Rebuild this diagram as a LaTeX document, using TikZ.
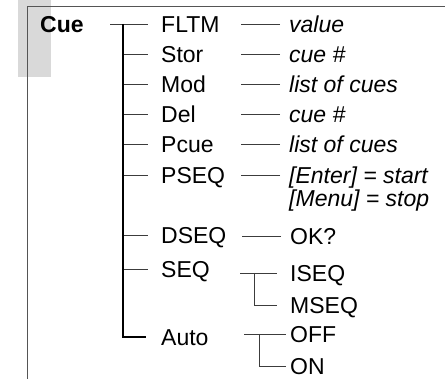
\documentclass[tikz,border=0pt]{standalone}
\usepackage{fontspec}
\setmainfont{Liberation Sans}
\usepackage{tikz}
\usetikzlibrary{calc,positioning}
\definecolor{cueShade}{RGB}{217,217,217}
\definecolor{cueFrame}{RGB}{85,85,85}
\definecolor{cueLine}{RGB}{60,60,60}

\begin{document}
\begin{tikzpicture}[x=1pt,y=-1pt,
  item/.style={anchor=west,inner sep=0pt,text height=16.4pt,text depth=0pt,font=\fontsize{23}{26}\selectfont},
  val/.style={item,font=\fontsize{23}{26}\selectfont\itshape},
  tick/.style={cueLine,line width=0.8pt},
  trunk/.style={black,line width=1.6pt}]
\useasboundingbox (0,0) rectangle (445,379);
\fill[cueShade] (18,0) rectangle (51,77);
\draw[cueFrame, line width=0.8pt] (27,379)--(27,6)--(445,6);
\node[item,font=\fontsize{23}{26}\selectfont\bfseries] (cue) at (40,24) {Cue};
% menu entries
\foreach \name/\txt/\y in {fltm/FLTM/24,stor/Stor/54,mod/Mod/84,del/Del/114,pcue/Pcue/144,pseq/PSEQ/175,dseq/DSEQ/235,seq/SEQ/269,auto/Auto/337}
  \node[item] (\name) at (161,\y) {\txt};
\coordinate (top) at (123,24);
\draw[tick] ([xshift=-51pt]fltm.west) -- ([xshift=-13pt]fltm.west);
\foreach \name in {stor,mod,del,pcue,pseq,dseq,seq}
  \draw[tick] (top |- \name.west) -- ([xshift=-13pt]\name.west);
\draw[trunk] (top) -- (top |- auto.west) -- ([xshift=-15pt]auto.west);
% values
\foreach \name/\txt/\y in {vfltm/value/24,vstor/cue \#/54,vmod/list of cues/84,vdel/cue \#/114,vpcue/list of cues/144,venter/{[Enter] = start}/175}
  \node[val] (\name) at (289,\y) {\txt};
\node[val, below=7pt of venter.south west, anchor=north west] (vmenu) {[Menu] = stop};
\node[item] (ok) at (290,236) {OK?};
\foreach \name in {vfltm,vstor,vmod,vdel,vpcue,venter,ok}
  \draw[tick] ([xshift=-9pt]\name.west) -- ([xshift=-48pt]\name.west);
% SEQ branch
\node[item] (iseq) at (290,273) {ISEQ};
\node[item] (mseq) at (290,305) {MSEQ};
\draw[tick] ([xshift=-50pt]iseq.west) -- ([xshift=-13pt]iseq.west);
\draw[tick] ([xshift=-36pt]iseq.west) |- ([xshift=-13pt]mseq.west);
% Auto branch
\node[item] (off) at (290,334) {OFF};
\node[item] (on) at (290,366) {ON};
\draw[tick] ([xshift=-46pt]off.west) -- ([xshift=-4pt]off.west);
\draw[tick] ([xshift=-31pt]off.west) |- ([xshift=-4pt]on.west);
\end{tikzpicture}
\end{document}
